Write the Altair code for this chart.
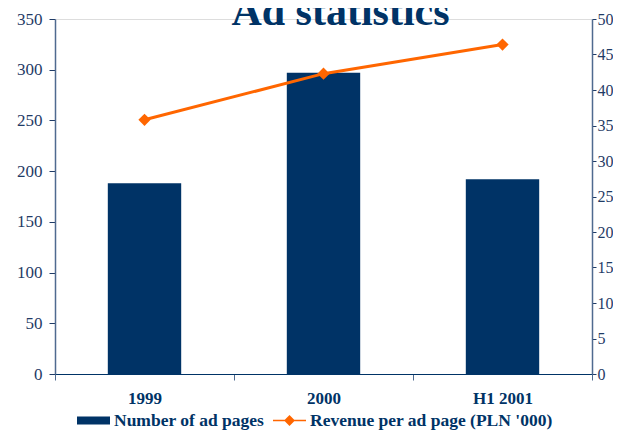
import altair as alt
import pandas as pd

categories = ["1999", "2000", "H1 2001"]
ad_pages = [188, 297, 192]
revenue = [35.8, 42.3, 46.4]
series_names = ["Number of ad pages", "Revenue per ad page (PLN '000)"]
left_ticks = [0, 50, 100, 150, 200, 250, 300, 350]
right_ticks = [0, 5, 10, 15, 20, 25, 30, 35, 40, 45, 50]

NAVY = "#003366"
ORANGE = "#FF6600"
TEXT = "#1F3B66"
AXIS = "#4F6A8F"
FONT = "Liberation Serif"

df = pd.DataFrame({"period": categories, "pages": ad_pages, "revenue": revenue})

x_enc = alt.X(
    "period:N",
    sort=categories,
    scale=alt.Scale(paddingInner=0, paddingOuter=0),
    axis=alt.Axis(
        title=None, labelAngle=0, labelFont=FONT, labelFontSize=17,
        labelFontWeight="bold", labelColor=NAVY, labelPadding=10,
        tickBand="extent", tickSize=6, tickColor=AXIS, domainColor=NAVY,
        domainWidth=1.2,
    ),
)

bar_shape = "M-1,-0.24H1V0.24H-1Z"
line_shape = "M-1,-0.045H1V0.045H-1Z M0,-0.33L0.33,0L0,0.33L-0.33,0Z"

def make_legend(shape, x):
    return alt.Legend(
        title=None, orient="none", direction="horizontal",
        legendX=x, legendY=385, symbolSize=1089, symbolStrokeWidth=0,
        symbolType=shape, symbolOpacity=1,
        labelFont=FONT, labelFontSize=17.5, labelFontWeight="bold", labelColor=NAVY,
        labelOffset=4, labelLimit=400,
    )

bars = alt.Chart(df).transform_calculate(
    series="'Number of ad pages'"
).mark_bar(width=alt.RelativeBandSize(0.41)).encode(
    x=x_enc,
    y=alt.Y(
        "pages:Q",
        scale=alt.Scale(domain=[0, 350], nice=False),
        axis=alt.Axis(
            title=None, values=left_ticks, grid=False, labelFont=FONT,
            labelFontSize=17, labelColor=TEXT, labelPadding=7, tickSize=6,
            tickColor=TEXT, domainColor=AXIS, domainWidth=1.5,
        ),
    ),
    color=alt.Color(
        "series:N",
        scale=alt.Scale(domain=[series_names[0]], range=[NAVY]),
        legend=make_legend(bar_shape, 22),
    ),
)

y_rev = alt.Y(
    "revenue:Q",
    scale=alt.Scale(domain=[0, 50], nice=False),
    axis=alt.Axis(
        title=None, orient="right", values=right_ticks, grid=False,
        labelFont=FONT, labelFontSize=16, labelColor=TEXT, labelPadding=1,
        tickSize=4, tickColor=TEXT, domainColor=AXIS, domainWidth=1.5,
    ),
)

line = alt.Chart(df).mark_line(color=ORANGE, strokeWidth=3).encode(x=x_enc, y=y_rev)

points = alt.Chart(df).transform_calculate(
    series="\"Revenue per ad page (PLN '000)\""
).mark_point(shape="diamond", size=150, filled=True, opacity=1).encode(
    x=x_enc,
    y=y_rev,
    fill=alt.Fill(
        "series:N",
        scale=alt.Scale(domain=[series_names[1]], range=[ORANGE]),
        legend=make_legend(line_shape, 218),
    ),
)

chart = alt.layer(bars, alt.layer(line, points)).resolve_scale(y="independent").properties(
    width=537,
    height=355,
    title=alt.TitleParams(
        "Ad statistics", font=FONT, fontSize=42, fontWeight="bold",
        color=NAVY, anchor="middle", baseline="alphabetic", offset=-57, dx=17,
    ),
    autosize=alt.AutoSizeParams(type="none"),
    padding={"left": 47, "top": 11, "right": 21, "bottom": 59},
).configure_view(stroke=None).configure(background="white")

chart.save("out.html", embed_options={"renderer": "svg", "actions": False})
